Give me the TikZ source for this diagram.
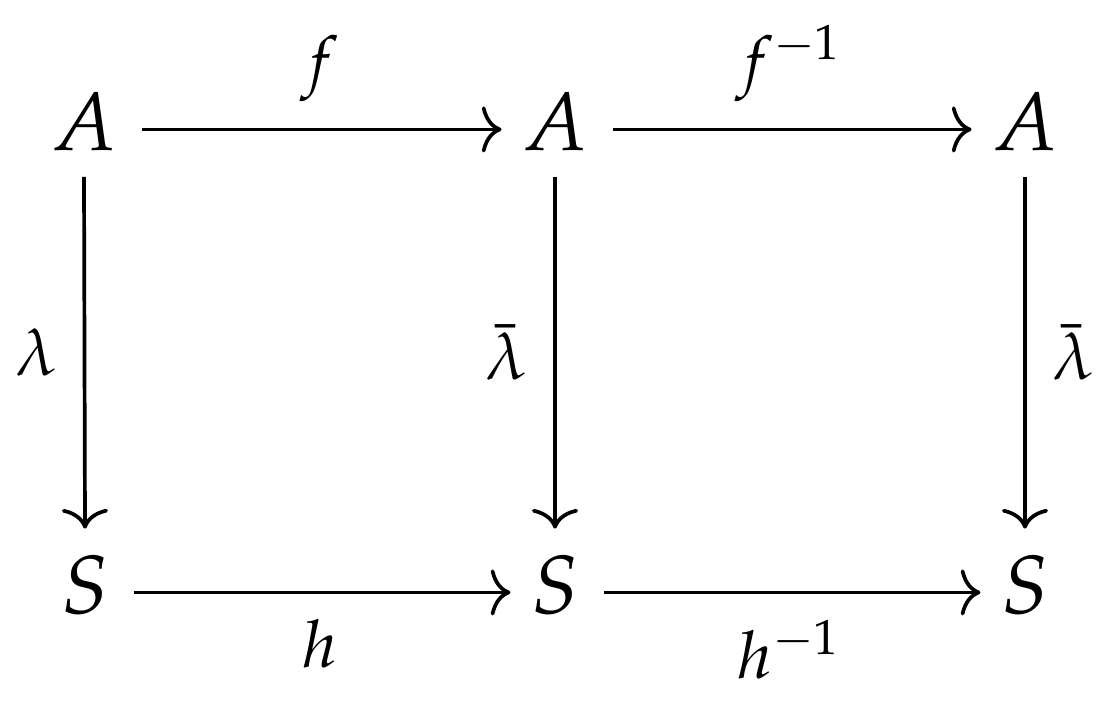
\documentclass[tikz,border=0pt]{standalone}
\usepackage{mathpazo}
\usetikzlibrary{arrows.meta}
\begin{document}
\begin{tikzpicture}[x=0.12136pt,y=-0.12136pt,
  obj/.style={anchor=base, inner xsep=3.2pt, inner ysep=3pt},
  arr/.style={-{Computer Modern Rightarrow[length=2.4pt,width=5.6pt]}, line width=0.45pt},
  harr/.style={arr, shorten <=-0.4pt, shorten >=-0.9pt},
  lab/.style={inner sep=3.1pt, font=\fontsize{8}{9.6}\selectfont, execute at begin node=$, execute at end node=$}]
\useasboundingbox (0,0) rectangle (1114,707);
\node[obj] (A1) at (84,150) {$A$};
\node[obj] (A2) at (555,150) {$A$};
\node[obj] (A3) at (1025,150) {$A$};
\node[obj] (S1) at (85,613) {$S$};
\node[obj] (S2) at (555,613) {$S$};
\node[obj] (S3) at (1025,613) {$S$};
\draw[harr] ([yshift=2.5pt]A1.base east) -- node[lab,above] (lf) {f} ([yshift=2.5pt]A2.base west);
\draw[harr] ([yshift=2.5pt]A2.base east) -- node[lab,above] (lfi) {f^{-1}} ([yshift=2.5pt]A3.base west);
\draw[harr] ([yshift=2.5pt]S1.base east) -- node[lab,below] (lh) {h} ([yshift=2.5pt]S2.base west);
\draw[harr] ([yshift=2.5pt]S2.base east) -- node[lab,below] (lhi) {h^{-1}} ([yshift=2.5pt]S3.base west);
\draw[arr] (A1.south) -- node[lab,left] (ll) {\lambda} (S1.north);
\draw[arr] (A2.south) -- node[lab,left] (lb1) {\bar\lambda} (S2.north);
\draw[arr] (A3.south) -- node[lab,right] (lb2) {\bar\lambda} (S3.north);
\end{tikzpicture}
\end{document}
